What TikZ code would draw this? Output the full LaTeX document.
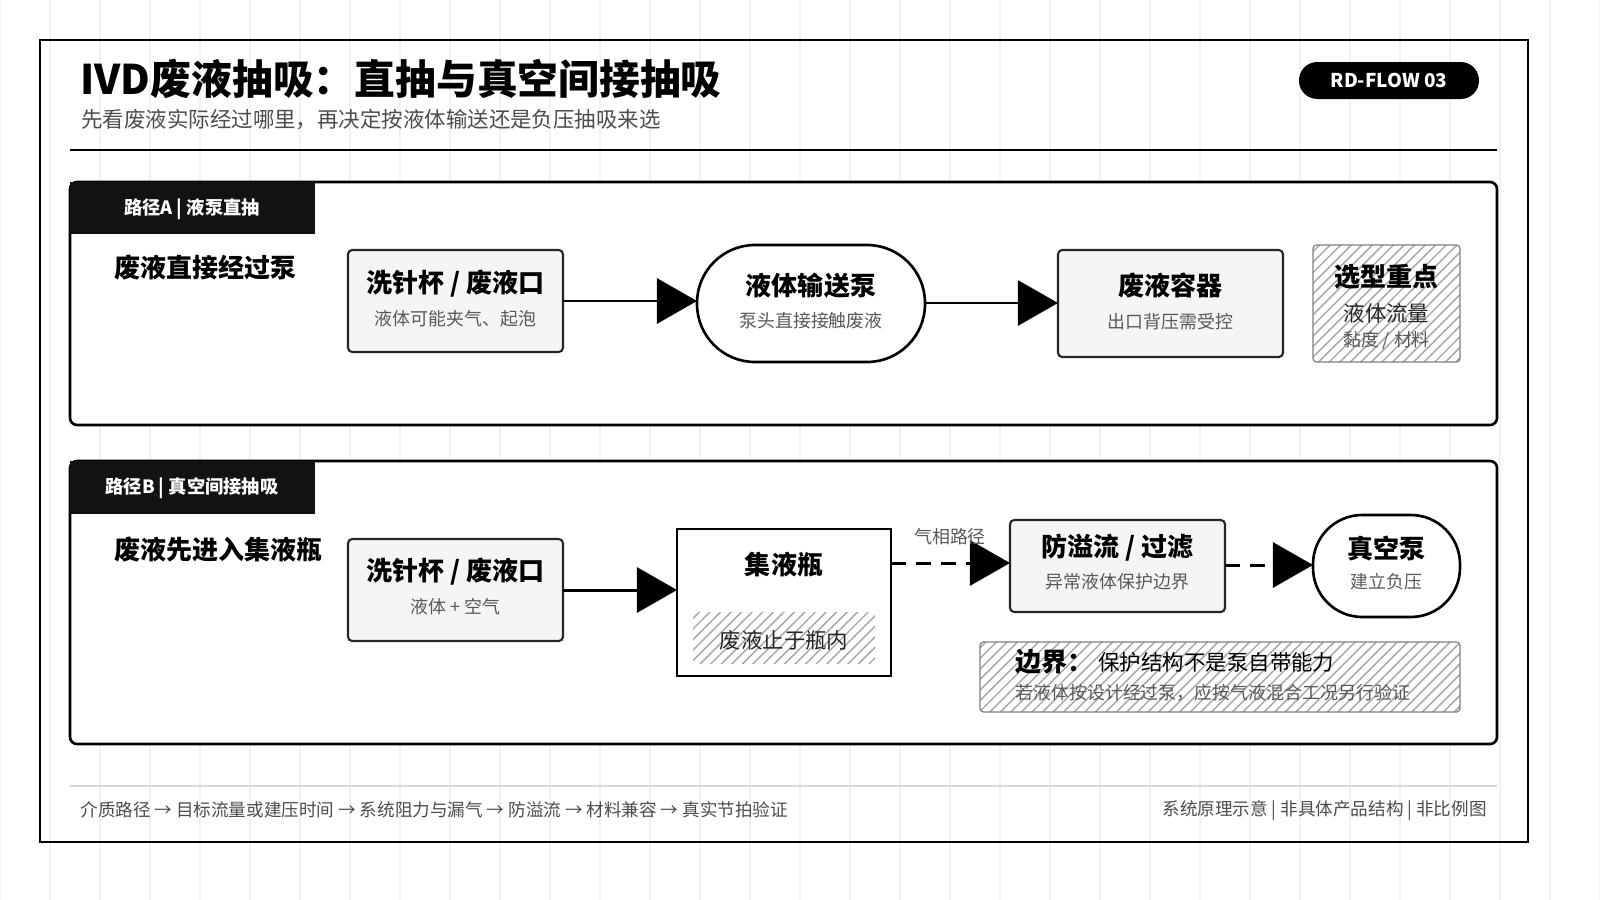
\documentclass[tikz,border=0pt]{standalone}
\usepackage{fontspec}
\setmainfont{Noto Sans CJK SC}
\usetikzlibrary{arrows.meta,patterns}
\tikzset{
  box/.style={draw=black!85, line width=0.6pt, rounded corners=1.2pt, fill=black!4},
  pill/.style={draw=black, line width=0.75pt, rounded corners=14pt, fill=white},
  hatch/.style={draw=black!50, line width=0.35pt, rounded corners=1pt, pattern=north east lines, pattern color=black!35},
  ttl/.style={font=\fontsize{7.4}{8}\selectfont\bfseries},
  sub/.style={font=\fontsize{5.1}{6}\selectfont, text=black!65},
  flow/.style={line width=0.85pt, -{Triangle[length=0.4cm,width=0.45cm]}},
}
\begin{document}
\begin{tikzpicture}[x=0.01cm,y=-0.01cm]
			\useasboundingbox (0,0) rectangle (1600,900);
			% Draw background grid and frame
			\fill[white] (0,0) rectangle (1600,900);
			\draw[black!5, line width=0.3pt, step=50] (0,0) grid (1600,900);
			\draw[line width=0.6pt] (40,40) rectangle (1528,842);
			
			% Draw title block
			\node[anchor=base west, font=\fontsize{11.6}{12}\selectfont\bfseries] (title) at (68,94) {IVD废液抽吸：直抽与真空间接抽吸};
			\node[anchor=base west, font=\fontsize{6.1}{7}\selectfont, text=black!70] (subtitle) at (69,127) {先看废液实际经过哪里，再决定按液体输送还是负压抽吸来选};
			\fill[black, rounded corners=5.2pt] (1299,62) rectangle (1479,99);
			\node[text=white, font=\fontsize{5.4}{6}\selectfont\bfseries] (badge) at (1389,80.5) {RD-FLOW 03};
			\draw[line width=0.5pt] (70,150) -- (1497,150);
			
			% Draw path A panel
			\draw[line width=0.75pt, rounded corners=2pt, fill=white] (70,182) rectangle (1497,425);
			\fill[black!93] (70,182) rectangle (315,234);
			\node[text=white, font=\fontsize{5.2}{6}\selectfont\bfseries] (tabA) at (192,209) {路径A | 液泵直抽};
			\node[anchor=west, font=\fontsize{7.4}{8}\selectfont\bfseries] (headA) at (102,268) {废液直接经过泵};
			
			\draw[box] (348,250) rectangle (563,352);
			\node[ttl] (cupA) at (455.5,284) {洗针杯 / 废液口};
			\node[sub] (cupAsub) at (455.5,319) {液体可能夹气、起泡};
			\coordinate (cupAout) at (563,301);
			
			\draw[pill, rounded corners=16.5pt] (697,245) rectangle (925,362);
			\node[ttl] (pumpA) at (811,286) {液体输送泵};
			\node[sub] (pumpAsub) at (811,321) {泵头直接接触废液};
			\coordinate (pumpAin) at (697,301);
			\coordinate (pumpAout) at (925,303);
			
			\draw[box] (1058,250) rectangle (1283,357);
			\node[ttl] (tankA) at (1170.5,286) {废液容器};
			\node[sub] (tankAsub) at (1170.5,322) {出口背压需受控};
			\coordinate (tankAin) at (1058,303);
			
			\draw[hatch] (1313,245) rectangle (1460,362);
			\node[ttl] (keyA) at (1386.5,277) {选型重点};
			\node[font=\fontsize{6.1}{7}\selectfont, text=black!85] (keyAflow) at (1386.5,313) {液体流量};
			\node[sub] (keyAmat) at (1386.5,341) {黏度 / 材料};
			
			\draw[flow] (cupAout) -- (pumpAin);
			\draw[flow] (pumpAout) -- (tankAin);
			
			% Draw path B panel
			\draw[line width=0.75pt, rounded corners=2pt, fill=white] (70,461) rectangle (1497,744);
			\fill[black!93] (70,461) rectangle (315,514);
			\node[text=white, font=\fontsize{5.2}{6}\selectfont\bfseries] (tabB) at (192,488.5) {路径B | 真空间接抽吸};
			\node[anchor=west, font=\fontsize{7.4}{8}\selectfont\bfseries] (headB) at (102,550) {废液先进入集液瓶};
			
			\draw[box] (348,539) rectangle (563,641);
			\node[ttl] (cupB) at (455.5,572) {洗针杯 / 废液口};
			\node[sub] (cupBsub) at (455.5,607) {液体 + 空气};
			\coordinate (cupBout) at (563,590);
			
			\draw[line width=0.75pt, fill=white] (677,529) rectangle (891,676);
			\node[ttl] (bottle) at (784,565) {集液瓶};
			\draw[hatch, draw=none] (693,612) rectangle (875,664);
			\node[font=\fontsize{6.1}{7}\selectfont, text=black!85] (bottleliq) at (784,640) {废液止于瓶内};
			\coordinate (bottlein) at (677,590);
			\coordinate (bottleout) at (891,563);
			
			\draw[box] (1010,520) rectangle (1225,612);
			\node[ttl] (filter) at (1117.5,548) {防溢流 / 过滤};
			\node[sub] (filtersub) at (1117.5,582) {异常液体保护边界};
			\coordinate (filterin) at (1010,563);
			\coordinate (filterout) at (1225,565);
			
			\draw[pill] (1313,515) rectangle (1460,617);
			\node[ttl] (vac) at (1386.5,548) {真空泵};
			\node[sub] (vacsub) at (1386.5,582) {建立负压};
			\coordinate (vacin) at (1313,565);
			
			\draw[flow] (cupBout) -- (bottlein);
			\draw[flow, dash pattern=on 0.15cm off 0.1cm] (bottleout) -- (filterin);
			\node[sub] (gaslbl) at (950,537) {气相路径};
			\draw[flow, dash pattern=on 0.15cm off 0.1cm] (filterout) -- (vacin);
			
			\draw[hatch] (980,642) rectangle (1460,712);
			\node[anchor=base west, font=\fontsize{7.4}{8}\selectfont\bfseries] (limit) at (1003,671) {边界：};
			\node[anchor=base west, font=\fontsize{6.1}{7}\selectfont] (limittxt) at (1086,670) {保护结构不是泵自带能力};
			\node[anchor=base west, sub] (limitsub) at (1003,699) {若液体按设计经过泵，应按气液混合工况另行验证};
			
			% Draw footer
			\draw[black!15, line width=0.6pt] (70,786) -- (1497,786);
			\node[anchor=west, font=\fontsize{5}{6}\selectfont, text=black!70] (footL) at (68,810) {介质路径 → 目标流量或建压时间 → 系统阻力与漏气 → 防溢流 → 材料兼容 → 真实节拍验证};
			\node[anchor=east, font=\fontsize{5}{6}\selectfont, text=black!70] (footR) at (1499,810) {系统原理示意 | 非具体产品结构 | 非比例图};
\end{tikzpicture}
\end{document}
